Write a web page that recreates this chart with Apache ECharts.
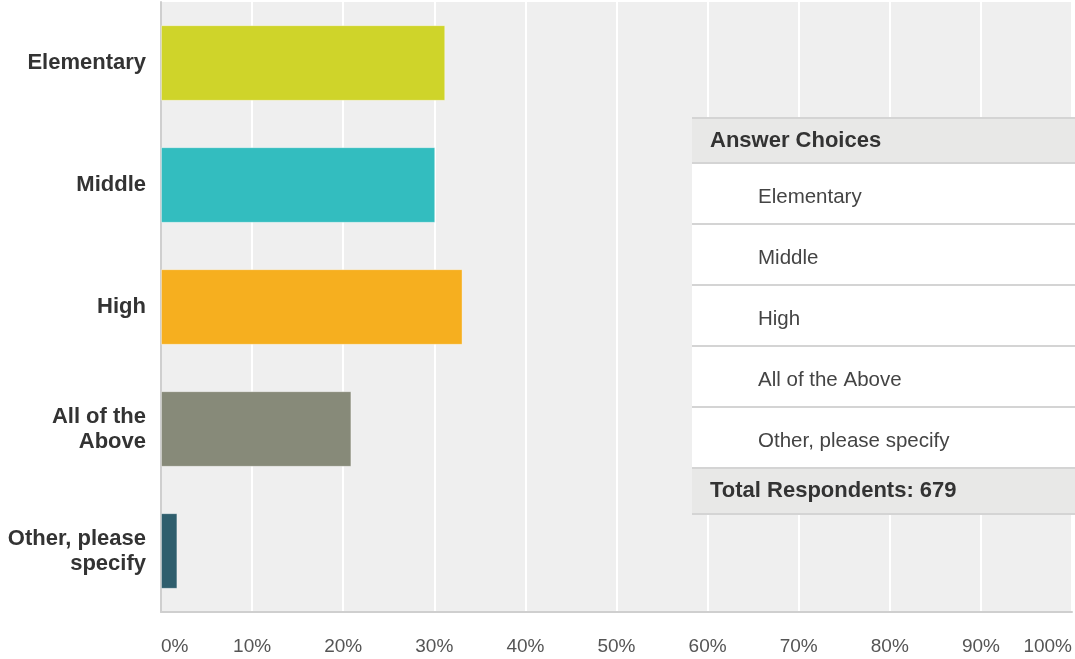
<!DOCTYPE html>
<html>
<head>
<meta charset="utf-8">
<script src="https://cdn.jsdelivr.net/npm/echarts@6/dist/echarts.min.js"></script>
<style>
html,body{margin:0;padding:0;background:#fff;}
#chart{width:1075px;height:659px;}
</style>
</head>
<body>
<div id="chart"></div>
<script>
const categories = ['Elementary', 'Middle', 'High', 'All of the\nAbove', 'Other, please\nspecify'];
const tableLabels = ['Elementary', 'Middle', 'High', 'All of the Above', 'Other, please specify'];
const values = [31.2, 30.1, 33.1, 20.9, 1.8];
const barColors = ['#cfd42a', '#33bdbf', '#f6af1f', '#878a79', '#2f5e6d'];
const xTicks = [0, 10, 20, 30, 40, 50, 60, 70, 80, 90, 100];
const tableHeader = 'Answer Choices';
const totalLabel = 'Total Respondents: 679';

const chart = echarts.init(document.getElementById('chart'));
const FONT = '"Liberation Sans", Arial, sans-serif';

// Table overlay
const tX = 692, tW = 383;
const headerTop = 118, headerH = 45, rowH = 61;
const tableEls = [];
const Z = 100;
tableEls.push({type:'rect', z:Z, shape:{x:tX, y:headerTop, width:tW, height:headerH}, style:{fill:'#e8e8e7'}});
tableEls.push({type:'text', z:Z+1, x:tX+18, y:headerTop+headerH/2, style:{text:tableHeader, font:'bold 22px '+FONT, fill:'#333', verticalAlign:'middle'}});
tableLabels.forEach((lab, i) => {
  const y = headerTop + headerH + i*rowH;
  tableEls.push({type:'rect', z:Z, shape:{x:tX, y:y, width:tW, height:rowH}, style:{fill:'#ffffff'}});
  tableEls.push({type:'text', z:Z+1, x:tX+66, y:y+rowH/2+4, style:{text:lab, font:'20.5px '+FONT, fill:'#444', verticalAlign:'middle'}});
});
const totalTop = headerTop + headerH + tableLabels.length*rowH;
tableEls.push({type:'rect', z:Z, shape:{x:tX, y:totalTop, width:tW, height:46}, style:{fill:'#e8e8e7'}});
tableEls.push({type:'text', z:Z+1, x:tX+18, y:totalTop+23, style:{text:totalLabel, font:'bold 22px '+FONT, fill:'#333', verticalAlign:'middle'}});
const lineYs = [headerTop, headerTop+headerH];
for (let i=1;i<=tableLabels.length;i++) lineYs.push(headerTop+headerH+i*rowH);
lineYs.push(totalTop+46);
lineYs.forEach(y => {
  tableEls.push({type:'line', z:Z+2, shape:{x1:tX, y1:y, x2:tX+tW, y2:y}, style:{stroke:'#d4d4d4', lineWidth:2}});
});

chart.setOption({
  animation: false,
  backgroundColor: '#ffffff',
  grid: {left:161, right:0, top:2, bottom:47, show:true, backgroundColor:'#efefef', borderWidth:0},
  xAxis: {
    type:'value', min:0, max:100, interval:10,
    axisLine:{show:true, lineStyle:{color:'#cfcfcf', width:2}},
    axisTick:{show:false},
    splitLine:{show:true, lineStyle:{color:'#ffffff', width:2}},
    axisLabel:{formatter: v => v + '%', color:'#555', fontSize:19, fontFamily:FONT, margin:25, alignMinLabel:'left', alignMaxLabel:'right'}
  },
  yAxis: {
    type:'category', data:categories, inverse:true,
    axisLine:{show:true, lineStyle:{color:'#cfcfcf', width:2}},
    axisTick:{show:false},
    axisLabel:{color:'#333', fontSize:22, fontWeight:'bold', fontFamily:FONT, margin:15, lineHeight:25, align:'right'}
  },
  series: [{
    type:'bar', data: values.map((v,i)=>({value:v, itemStyle:{color:barColors[i]}})),
    barCategoryGap:'38%',
    itemStyle:{borderColor:'rgba(255,255,255,0.35)', borderWidth:1}
  }],
  graphic: tableEls
});
</script>
</body>
</html>
